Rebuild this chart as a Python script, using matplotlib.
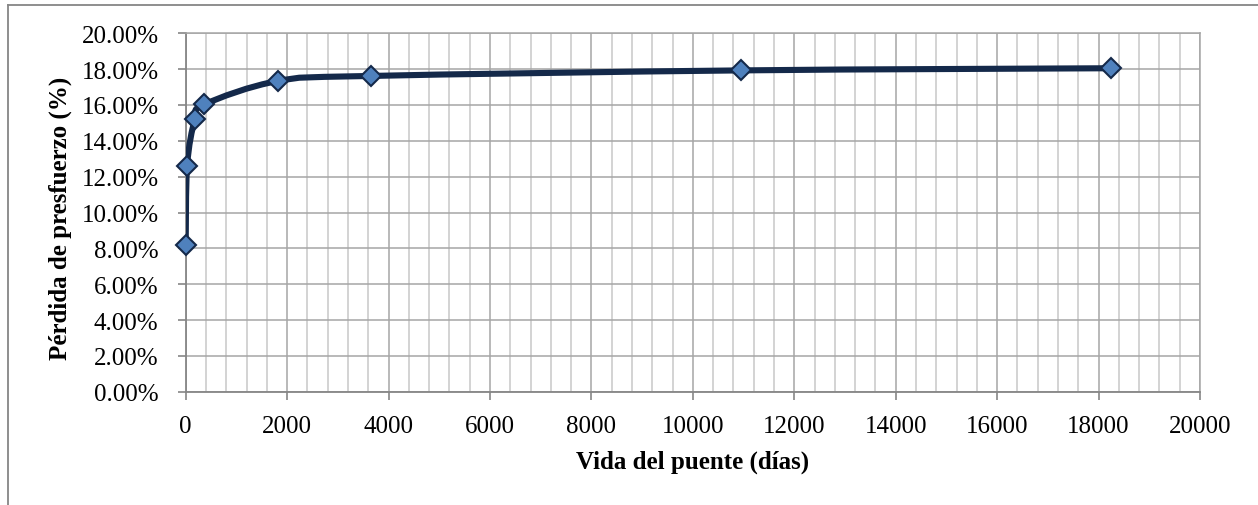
import matplotlib
matplotlib.use("Agg")
import matplotlib.pyplot as plt
import numpy as np
from matplotlib.path import Path
from matplotlib.patches import PathPatch
from matplotlib.lines import Line2D
from matplotlib.ticker import MultipleLocator, FuncFormatter

# Data
dias = [0, 28, 180, 365, 1825, 3650, 10950, 18250]
perdida = [0.0818, 0.1261, 0.1519, 0.1603, 0.1734, 0.1762, 0.1793, 0.1805]
x_ticks = [0, 2000, 4000, 6000, 8000, 10000, 12000, 14000, 16000, 18000, 20000]
y_ticks = [0.00, 0.02, 0.04, 0.06, 0.08, 0.10, 0.12, 0.14, 0.16, 0.18, 0.20]
xlabel = "Vida del puente (días)"
ylabel = "Pérdida de presfuerzo (%)"

plt.rcParams['font.family'] = ['Liberation Serif', 'DejaVu Serif']

fig = plt.figure(figsize=(12.58, 5.06), dpi=100)
ax = fig.add_axes([185.7/1258, 1-392.7/506, (1200-185.7)/1258, (392.7-34.3)/506])

ax.set_xlim(0, 20000)
ax.set_ylim(0, 0.20)
ax.set_xticks(x_ticks)
ax.set_yticks(y_ticks)
ax.xaxis.set_minor_locator(MultipleLocator(400))
ax.yaxis.set_major_formatter(FuncFormatter(lambda v, p: f"{v*100:.2f}%"))

major_c = '#A6A6A6'
minor_c = '#C8C8C8'
ax.grid(which='major', color=major_c, linewidth=1.1, zorder=0)
ax.grid(which='minor', axis='x', color=minor_c, linewidth=1.1, zorder=0)
ax.set_axisbelow(True)

for s in ['top', 'right']:
    ax.spines[s].set_color(major_c)
    ax.spines[s].set_linewidth(1.1)
for s in ['left', 'bottom']:
    ax.spines[s].set_color('#868686')
    ax.spines[s].set_linewidth(1.3)

ax.tick_params(which='major', direction='out', length=5.5, width=1.2, color='#868686',
               labelsize=18, labelcolor='black')
ax.tick_params(axis='y', pad=14)
ax.tick_params(axis='x', pad=11)
ax.tick_params(which='minor', length=0)

# Smoothed line (Excel-like Catmull-Rom Bezier)
P = np.column_stack([dias, perdida]).astype(float)
n = len(P)
verts = [P[0]]
codes = [Path.MOVETO]
for i in range(n - 1):
    p0 = P[i - 1] if i > 0 else P[i]
    p1 = P[i]
    p2 = P[i + 1]
    p3 = P[i + 2] if i + 2 < n else P[i + 1]
    c1 = p1 + (p2 - p0) / 6.0
    c2 = p2 - (p3 - p1) / 6.0
    verts += [c1, c2, p2]
    codes += [Path.CURVE4] * 3
path = Path(verts, codes)
ax.add_patch(PathPatch(path, facecolor='none', edgecolor='#14294A', linewidth=4.4,
                       capstyle='round', joinstyle='round', zorder=3))

ax.plot(dias, perdida, linestyle='none', marker='D', markersize=10.2,
        markerfacecolor='#4F81BD', markeredgecolor='#14294A', markeredgewidth=1.5,
        zorder=4, clip_on=False)

ax.set_xlabel(xlabel, fontsize=18, fontweight='bold')
ax.set_ylabel(ylabel, fontsize=18, fontweight='bold')
ax.xaxis.set_label_coords(0.5, (392.7-462)/358.4)
ax.xaxis.label.set_va('center')
ax.yaxis.set_label_coords((60-185.7)/1014.3, 0.487)
ax.yaxis.label.set_va('center')

# Outer chart border (partially visible)
fig.add_artist(Line2D([8/1258, 1.0], [1-6/506, 1-6/506], color='#868686', linewidth=1.3,
                      transform=fig.transFigure))
fig.add_artist(Line2D([8/1258, 8/1258], [0.0, 1-6/506], color='#868686', linewidth=1.3,
                      transform=fig.transFigure))

fig.savefig('out.png', dpi=100)
